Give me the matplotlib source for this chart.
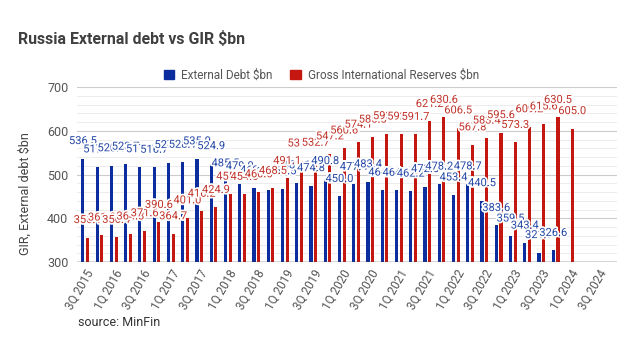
import numpy as np
import matplotlib
matplotlib.use("Agg")
import matplotlib.pyplot as plt
from matplotlib.patches import Patch
import matplotlib.patheffects as pe

plt.rcParams["font.family"] = ["Roboto", "DejaVu Sans"]

# datos (trimestres 3Q 2015 .. 3Q 2024)
quarters = ["3Q 2015", "4Q 2015", "1Q 2016", "2Q 2016", "3Q 2016", "4Q 2016",
            "1Q 2017", "2Q 2017", "3Q 2017", "4Q 2017", "1Q 2018", "2Q 2018",
            "3Q 2018", "4Q 2018", "1Q 2019", "2Q 2019", "3Q 2019", "4Q 2019",
            "1Q 2020", "2Q 2020", "3Q 2020", "4Q 2020", "1Q 2021", "2Q 2021",
            "3Q 2021", "4Q 2021", "1Q 2022", "2Q 2022", "3Q 2022", "4Q 2022",
            "1Q 2023", "2Q 2023", "3Q 2023", "4Q 2023", "1Q 2024", "2Q 2024",
            "3Q 2024"]

ext_debt = [536.5, 517.5, 520.1, 523.7, 517.9, 516.7, 527.4, 528.1, 535.9,
            524.9, 485.5, 479.0, 469.4, 465.7, 467.5, 481.1, 474.8, 490.8,
            450.0, 477.4, 483.4, 464.6, 464.0, 462.2, 472.5, 478.2, 453.4,
            478.7, 440.5, 383.6, 359.5, 343.4, 321.7, 326.6, None, None, None]

gir = [356.1, 361.8, 356.4, 364.3, 371.6, 390.6, 364.7, 401.0, 416.2,
       424.9, 455.2, 454.8, 460.6, 468.5, 491.1, 531.0, 532.7, 547.2,
       560.6, 574.1, 585.5, 593.5, 592.4, 591.7, 621.2, 630.6, 606.5,
       567.8, 583.4, 595.6, 573.3, 609.2, 615.6, 630.5, 605.0, None, None]

azul = "#0b2d9e"
rojo = "#c4170f"
azul_txt = "#2548a6"
rojo_txt = "#c0342b"
gris = "#555555"

fig = plt.figure(figsize=(6.34, 3.61), dpi=100)
ax = fig.add_axes([0.121, 0.274, 0.852, 0.485])

halo = [pe.withStroke(linewidth=2.5, foreground="white")]

for serie, color, ctxt, desp in [(ext_debt, azul, azul_txt, -0.165),
                                 (gir, rojo, rojo_txt, 0.165)]:
    xs = [i + desp for i, v in enumerate(serie) if v is not None]
    vs = [v for v in serie if v is not None]
    ax.bar(xs, vs, width=0.22, color=color, zorder=2)
    for xi, v in zip(xs, vs):
        ax.annotate(f"{v:.1f}", (xi, v), xytext=(0, 9), textcoords="offset points",
                    ha="center", va="bottom", fontsize=8, color=ctxt,
                    path_effects=halo, zorder=4)

ax.set_ylim(300, 700)
ax.set_xlim(-0.6, 37.3)
ax.set_yticks([300, 400, 500, 600, 700])
ax.set_yticks(np.arange(300, 701, 20), minor=True)
ax.grid(True, which="major", axis="y", color="#cccccc", lw=0.8, zorder=0)
ax.grid(True, which="minor", axis="y", color="#ececec", lw=0.7, zorder=0)
ax.axhline(300, color="#444444", lw=1, zorder=3)
ax.set_axisbelow(True)

ax.set_xticks(range(0, len(quarters), 2))
ax.set_xticklabels(quarters[::2], rotation=60, ha="right", rotation_mode="anchor",
                   fontsize=8.5, color=gris)
ax.tick_params(axis="both", which="both", length=0)
ax.tick_params(axis="y", labelsize=9, labelcolor=gris, pad=6)
ax.tick_params(axis="x", pad=4)
for s in ax.spines.values():
    s.set_visible(False)

ax.set_ylabel("GIR, External debt $bn", fontsize=9, color="#444444")
ax.yaxis.set_label_coords(-0.083, 0.39)

fig.text(18 / 634, 1 - 39 / 361, "Russia External debt vs GIR $bn", fontsize=11.4,
         fontweight="bold", color="#404040", va="center")

handles = [Patch(color=azul), Patch(color=rojo)]
fig.legend(handles, ["External Debt $bn", "Gross International Reserves $bn"],
           loc="center", bbox_to_anchor=(0.507, 1 - 75 / 361), ncol=2, frameon=False,
           fontsize=8.5, handlelength=0.9, handleheight=0.9, columnspacing=1.5,
           handletextpad=0.6, labelcolor=gris)

fig.text(78 / 634, 1 - 323 / 361, "source: MinFin", fontsize=9, color="#333333",
         va="center")

fig.savefig("out.png", dpi=100)
